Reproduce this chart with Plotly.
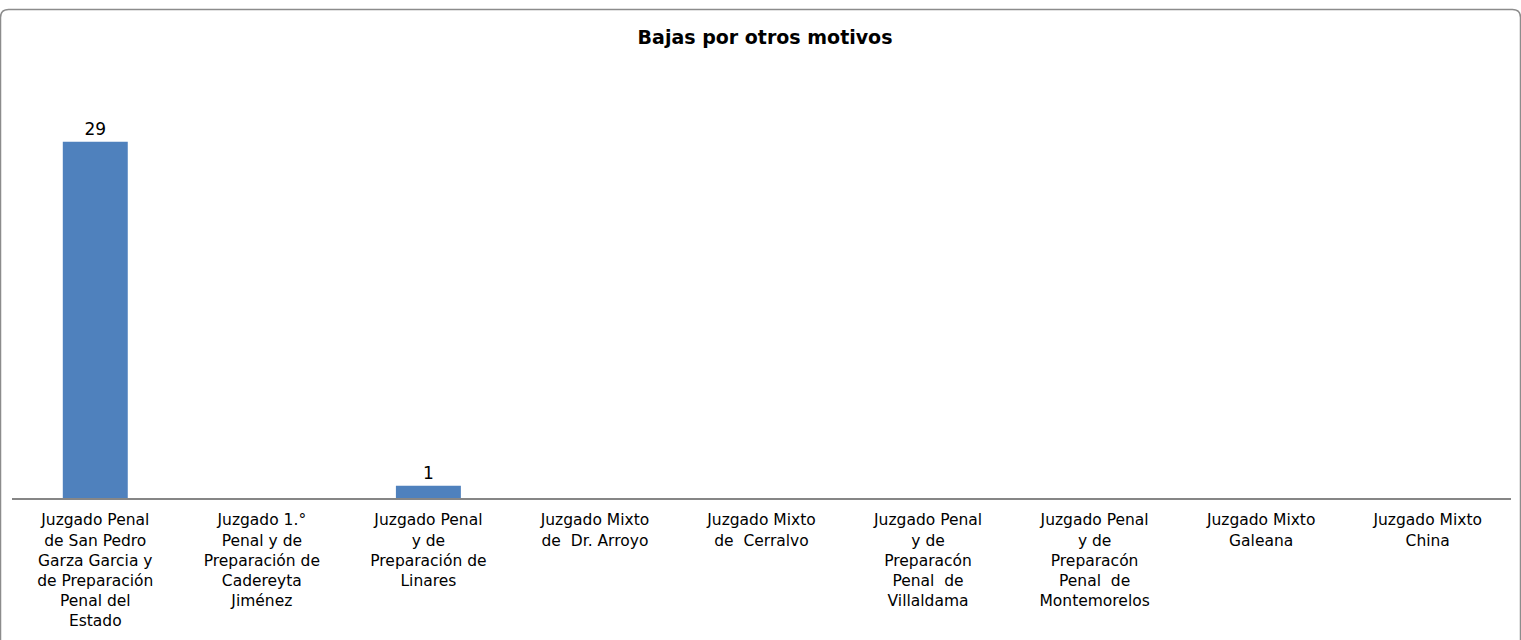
import plotly.graph_objects as go

categories = [
    "Juzgado Penal<br>de San Pedro<br>Garza Garcia y<br>de Preparación<br>Penal del<br>Estado",
    "Juzgado 1.°<br>Penal y de<br>Preparación de<br>Cadereyta<br>Jiménez",
    "Juzgado Penal<br>y de<br>Preparación de<br>Linares",
    "Juzgado Mixto<br>de  Dr. Arroyo",
    "Juzgado Mixto<br>de  Cerralvo",
    "Juzgado Penal<br>y de<br>Preparacón<br>Penal  de<br>Villaldama",
    "Juzgado Penal<br>y de<br>Preparacón<br>Penal  de<br>Montemorelos",
    "Juzgado Mixto<br>Galeana",
    "Juzgado Mixto<br>China",
]
values = [29, 0, 1, 0, 0, 0, 0, 0, 0]
labels = [str(v) if v else "" for v in values]
title = "Bajas por otros motivos"

W, H = 1521, 640
ML, MR, MT, MB = 12, 10, 68, 142

fig = go.Figure(go.Bar(
    x=list(range(len(categories))),
    y=values,
    text=labels,
    textposition="outside",
    cliponaxis=False,
    textfont=dict(family="DejaVu Sans", size=17, color="#000000"),
    marker=dict(color="#4F81BD", line=dict(width=0)),
    width=0.39,
))

# rounded chart border (paper coords)
pw, ph = W - ML - MR, H - MT - MB
def px(x):
    return (x - ML) / pw
def py(y):
    return (H - MB - y) / ph
x0, x1, y0, y1, r = 0.5, 1520.5, 9.5, 660, 8
path = (f"M {px(x0)},{py(y1)} L {px(x0)},{py(y0 + r)} "
        f"Q {px(x0)},{py(y0)} {px(x0 + r)},{py(y0)} "
        f"L {px(x1 - r)},{py(y0)} Q {px(x1)},{py(y0)} {px(x1)},{py(y0 + r)} "
        f"L {px(x1)},{py(y1)}")

fig.update_layout(
    width=W, height=H,
    margin=dict(l=ML, r=MR, t=MT, b=MB),
    paper_bgcolor="white", plot_bgcolor="white",
    showlegend=False,
    title=dict(text=f"<b>{title}</b>", x=0.503, xanchor="center", y=1 - 37 / H, yanchor="middle",
               font=dict(family="DejaVu Sans", size=19, color="#000000")),
    xaxis=dict(
        tickmode="array", tickvals=list(range(len(categories))), ticktext=categories,
        range=[-0.5, len(categories) - 0.5],
        showline=True, linecolor="#868686", linewidth=1.5,
        ticks="", showgrid=False, zeroline=False, tickangle=0,
        ticklabelstandoff=7,
        tickfont=dict(family="DejaVu Sans", size=15.5, color="#000000"),
    ),
    yaxis=dict(range=[0, 35], visible=False, showgrid=False, zeroline=False),
    shapes=[dict(type="path", path=path, xref="paper", yref="paper",
                 line=dict(color="#8c8c8c", width=1.5), layer="above")],
    font=dict(family="DejaVu Sans"),
)

fig.write_html("out.html", config={"displayModeBar": False},
               post_script="document.body.style.margin='0';document.body.style.overflow='hidden';")
